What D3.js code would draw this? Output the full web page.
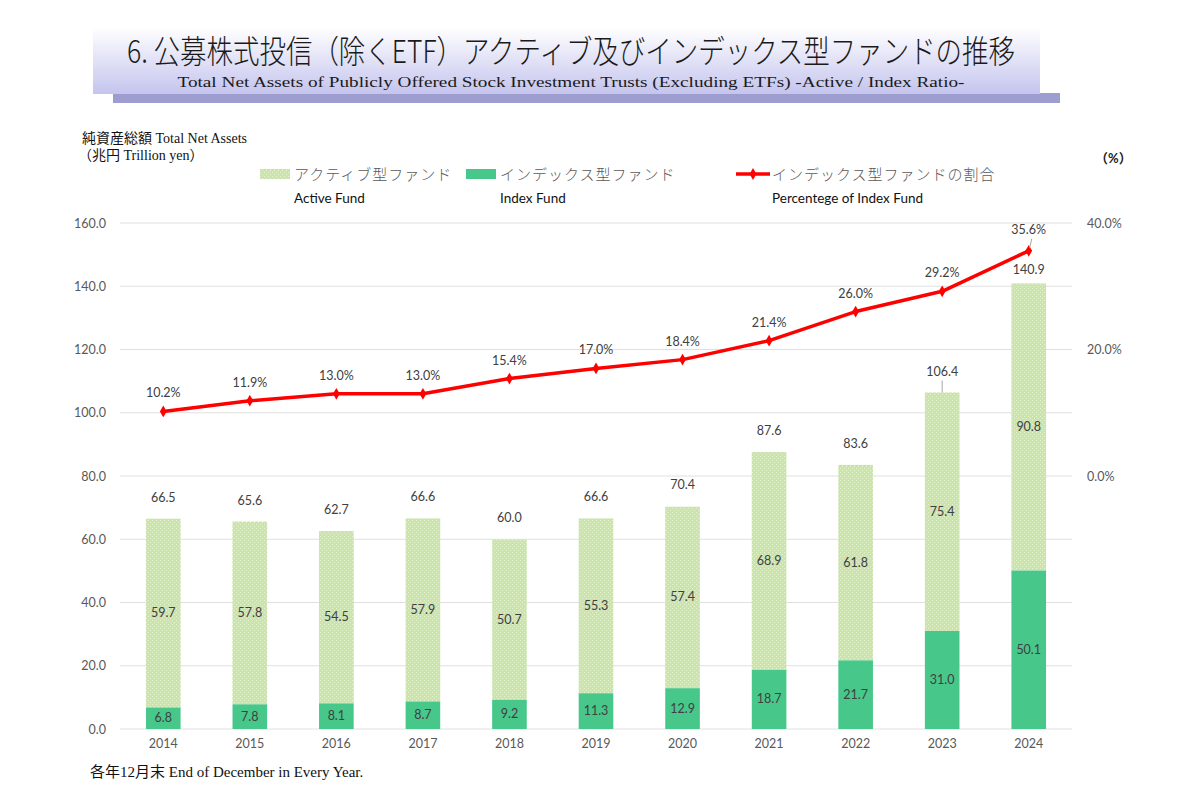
<!DOCTYPE html>
<html><head><meta charset="utf-8">
<script src="https://cdn.jsdelivr.net/npm/d3@7"></script>
<style>body{margin:0;background:#fff;}svg{display:block;}</style>
</head><body>
<svg id="c" width="1200" height="800"></svg>
<script>
const years = ["2014","2015","2016","2017","2018","2019","2020","2021","2022","2023","2024"];
const indexFund = [6.8,7.8,8.1,8.7,9.2,11.3,12.9,18.7,21.7,31.0,50.1];
const activeFund = [59.7,57.8,54.5,57.9,50.7,55.3,57.4,68.9,61.8,75.4,90.8];
const totals = [66.5,65.6,62.7,66.6,60.0,66.6,70.4,87.6,83.6,106.4,140.9];
const indexShare = [10.2,11.9,13.0,13.0,15.4,17.0,18.4,21.4,26.0,29.2,35.6];
const leftTicks = [0,20,40,60,80,100,120,140,160];
const rightTicks = [0,20,40];

const svg = d3.select("#c");
const sans = "Lato, 'Open Sans', 'Noto Sans CJK JP', sans-serif";
const jp = "'Noto Sans CJK JP', sans-serif";
const serif = "'Liberation Serif', 'Noto Sans CJK JP', serif";

// defs
const defs = svg.append("defs");
const grad = defs.append("linearGradient").attr("id","tg").attr("x1",0).attr("y1",0).attr("x2",0).attr("y2",1);
grad.append("stop").attr("offset","0%").attr("stop-color","#ffffff");
grad.append("stop").attr("offset","100%").attr("stop-color","#c4c4ee");
const pat = defs.append("pattern").attr("id","dots").attr("width",4).attr("height",4).attr("patternUnits","userSpaceOnUse");
pat.append("rect").attr("width",4).attr("height",4).attr("fill","#c9e5a8");
pat.append("rect").attr("x",0).attr("y",0).attr("width",1).attr("height",1).attr("fill","#e4f2d2");
pat.append("rect").attr("x",2).attr("y",2).attr("width",1).attr("height",1).attr("fill","#e4f2d2");

// title banner
svg.append("rect").attr("x",113).attr("y",93).attr("width",947).attr("height",10).attr("fill","#9d9dd0");
svg.append("rect").attr("x",93).attr("y",27).attr("width",947).attr("height",67).attr("fill","url(#tg)");
svg.append("text").attr("x",571).attr("y",63).attr("text-anchor","middle")
  .attr("font-family",jp).attr("font-size",32).attr("font-weight",300).attr("fill","#1a1a1a")
  .attr("textLength",888).attr("lengthAdjust","spacingAndGlyphs")
  .text("6. 公募株式投信（除くETF）アクティブ及びインデックス型ファンドの推移");
svg.append("text").attr("x",571).attr("y",87).attr("text-anchor","middle")
  .attr("font-family",serif).attr("font-size",15.5).attr("fill","#1a1a1a")
  .attr("textLength",787).attr("lengthAdjust","spacingAndGlyphs")
  .text("Total Net Assets of Publicly Offered Stock Investment Trusts (Excluding ETFs) -Active / Index Ratio-");

// axis titles
svg.append("text").attr("x",82).attr("y",143).attr("font-family",serif).attr("font-size",14).attr("fill","#111")
  .text("純資産総額 Total Net Assets");
svg.append("text").attr("x",78).attr("y",160).attr("font-family",serif).attr("font-size",14).attr("fill","#111")
  .text("（兆円 Trillion yen）");
svg.append("text").attr("x",1095).attr("y",163).attr("font-family",sans).attr("font-size",13).attr("font-weight","bold").attr("fill","#222")
  .text("（%）");

// scales
const margin = {left:120, right:1072, top:223, bottom:729};
const x = d3.scaleBand().domain(years).range([margin.left, margin.right]).paddingInner(0.6).paddingOuter(0.3);
const y = d3.scaleLinear().domain([0,160]).range([margin.bottom, margin.top]);
const y2 = d3.scaleLinear().domain([-40,40]).range([margin.bottom, margin.top]);

// gridlines
svg.append("g").selectAll("line").data(leftTicks).join("line")
  .attr("x1",margin.left).attr("x2",margin.right)
  .attr("y1",d=>y(d)).attr("y2",d=>y(d))
  .attr("stroke","#e0e0e0").attr("stroke-width",1);

// left axis
const yAxis = d3.axisLeft(y).tickValues(leftTicks).tickFormat(d3.format(".1f")).tickSize(0).tickPadding(14);
const ga = svg.append("g").attr("transform",`translate(${margin.left},0)`).call(yAxis);
ga.select(".domain").remove();
ga.selectAll("text").attr("font-family",sans).attr("font-size",12.5).attr("fill","#595959");

// right axis
const y2Axis = d3.axisRight(y2).tickValues(rightTicks).tickFormat(d=>d3.format(".1f")(d)+"%").tickSize(0).tickPadding(15);
const gb = svg.append("g").attr("transform",`translate(${margin.right},0)`).call(y2Axis);
gb.select(".domain").remove();
gb.selectAll("text").attr("font-family",sans).attr("font-size",12.5).attr("fill","#595959");

// x axis
const xAxis = d3.axisBottom(x).tickSize(0).tickPadding(10);
const gx = svg.append("g").attr("transform",`translate(0,${margin.bottom})`).call(xAxis);
gx.select(".domain").remove();
gx.selectAll("text").attr("font-family",sans).attr("font-size",12.5).attr("fill","#595959");

// bars
const bw = x.bandwidth();
svg.append("g").selectAll("rect").data(years).join("rect")
  .attr("x",d=>x(d)).attr("width",bw)
  .attr("y",(d,i)=>y(indexFund[i]+activeFund[i]))
  .attr("height",(d,i)=>y(indexFund[i])-y(indexFund[i]+activeFund[i]))
  .attr("fill","url(#dots)");
svg.append("g").selectAll("rect").data(years).join("rect")
  .attr("x",d=>x(d)).attr("width",bw)
  .attr("y",(d,i)=>y(indexFund[i]))
  .attr("height",(d,i)=>y(0)-y(indexFund[i]))
  .attr("fill","#48c78a");

// bar labels
const lbl = svg.append("g").attr("font-family",sans).attr("font-size",12.5).attr("fill","#404040").attr("text-anchor","middle");
lbl.selectAll(".il").data(years).join("text").attr("class","il")
  .attr("x",d=>x(d)+bw/2).attr("y",(d,i)=>y(indexFund[i]/2)+4)
  .text((d,i)=>indexFund[i].toFixed(1));
lbl.selectAll(".al").data(years).join("text").attr("class","al")
  .attr("x",d=>x(d)+bw/2).attr("y",(d,i)=>y(indexFund[i]+activeFund[i]/2)+4)
  .text((d,i)=>activeFund[i].toFixed(1));
lbl.selectAll(".tl").data(years).join("text").attr("class","tl")
  .attr("x",d=>x(d)+bw/2).attr("y",(d,i)=>y(totals[i])-(i===10?9:17))
  .text((d,i)=>totals[i].toFixed(1));
// leader line for 2023 total
svg.append("line").attr("x1",x("2023")+bw/2).attr("x2",x("2023")+bw/2)
  .attr("y1",y(totals[9])-12).attr("y2",y(totals[9])).attr("stroke","#a6a6a6");

// line
const cx = d=>x(d)+bw/2;
const line = d3.line().x((d,i)=>cx(years[i])).y(d=>y2(d));
svg.append("path").datum(indexShare).attr("d",line).attr("fill","none")
  .attr("stroke","#ff0000").attr("stroke-width",3.5).attr("stroke-linejoin","round");
svg.append("g").selectAll("path").data(indexShare).join("path")
  .attr("d",d3.symbol(d3.symbolDiamond,40))
  .attr("transform",(d,i)=>`translate(${cx(years[i])},${y2(d)})`)
  .attr("fill","#ff0000");
lbl.selectAll(".pl").data(indexShare).join("text").attr("class","pl")
  .attr("x",(d,i)=>cx(years[i])).attr("y",(d,i)=>y2(d)-(i===10?17:14))
  .text(d=>d.toFixed(1)+"%");
svg.append("line").attr("x1",cx("2024")+3).attr("x2",cx("2024")+1)
  .attr("y1",y2(indexShare[10])-12).attr("y2",y2(indexShare[10])-3).attr("stroke","#a6a6a6");

// legend
const lg = svg.append("g");
lg.append("rect").attr("x",260).attr("y",169).attr("width",30).attr("height",10).attr("fill","url(#dots)");
lg.append("text").attr("x",294).attr("y",180).attr("font-family",jp).attr("font-size",15).attr("font-weight",300).attr("letter-spacing",1).attr("fill","#595959").text("アクティブ型ファンド");
lg.append("text").attr("x",294).attr("y",203).attr("font-family",sans).attr("font-size",13.5).attr("fill","#111").text("Active Fund");
lg.append("rect").attr("x",466).attr("y",169).attr("width",30).attr("height",10).attr("fill","#48c78a");
lg.append("text").attr("x",500).attr("y",180).attr("font-family",jp).attr("font-size",15).attr("font-weight",300).attr("letter-spacing",1).attr("fill","#595959").text("インデックス型ファンド");
lg.append("text").attr("x",500).attr("y",203).attr("font-family",sans).attr("font-size",13.5).attr("fill","#111").text("Index Fund");
lg.append("line").attr("x1",736).attr("x2",770).attr("y1",174).attr("y2",174).attr("stroke","#ff0000").attr("stroke-width",3.5);
lg.append("path").attr("d",d3.symbol(d3.symbolDiamond,40)).attr("transform","translate(753,174)").attr("fill","#ff0000");
lg.append("text").attr("x",772).attr("y",180).attr("font-family",jp).attr("font-size",15).attr("font-weight",300).attr("letter-spacing",1).attr("fill","#595959").text("インデックス型ファンドの割合");
lg.append("text").attr("x",772).attr("y",203).attr("font-family",sans).attr("font-size",13.5).attr("fill","#111").text("Percentege of Index Fund");

// footnote
svg.append("text").attr("x",90).attr("y",777).attr("font-family",serif).attr("font-size",15).attr("fill","#111")
  .text("各年12月末 End of December in Every Year.");
</script>
</body></html>
